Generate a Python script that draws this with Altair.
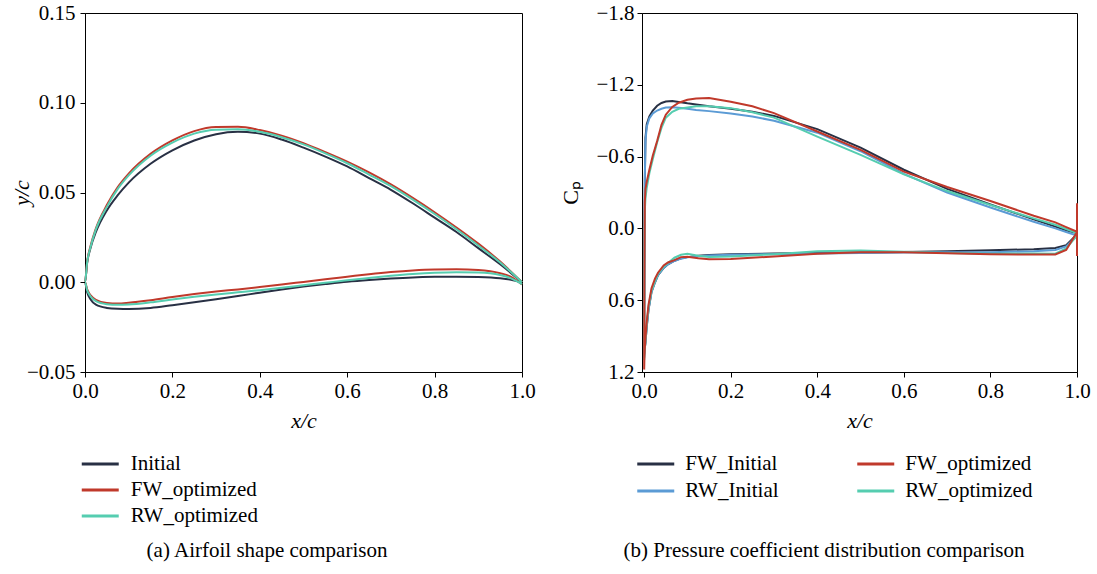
import altair as alt
import pandas as pd

SERIF = "Liberation Serif"

# ---------------- (a) airfoil shapes ----------------
AF_UP_X = [1.0, 0.95, 0.9, 0.85, 0.8, 0.75, 0.7, 0.65, 0.6, 0.55, 0.5, 0.45, 0.4,
           0.35, 0.3, 0.25, 0.2, 0.15, 0.1, 0.075, 0.05, 0.025, 0.0125, 0.005, 0.0]
AF_INITIAL_UP = [0.0, 0.010, 0.019, 0.028, 0.036, 0.044, 0.0515, 0.058, 0.0645, 0.070,
                 0.075, 0.0795, 0.0828, 0.0838, 0.0825, 0.079, 0.0735, 0.066, 0.0555,
                 0.0485, 0.040, 0.028, 0.019, 0.011, 0.0]
AF_FW_UP = [0.0, 0.0115, 0.0215, 0.0305, 0.039, 0.047, 0.0545, 0.0612, 0.0672, 0.0725,
            0.0775, 0.0817, 0.0848, 0.0866, 0.0865, 0.0842, 0.0790, 0.0715, 0.0605,
            0.053, 0.043, 0.030, 0.020, 0.0115, 0.0]
AF_RW_UP = [0.0, 0.011, 0.0205, 0.0295, 0.038, 0.046, 0.0535, 0.060, 0.0663, 0.0718,
            0.0768, 0.0808, 0.0838, 0.0852, 0.0850, 0.0828, 0.0778, 0.0705, 0.0595,
            0.052, 0.042, 0.0295, 0.0195, 0.0113, 0.0]

AF_LO_X = [0.0, 0.005, 0.0125, 0.025, 0.05, 0.075, 0.1, 0.15, 0.2, 0.25, 0.3, 0.35, 0.4,
           0.45, 0.5, 0.55, 0.6, 0.65, 0.7, 0.75, 0.8, 0.85, 0.9, 0.95, 0.975, 1.0]
AF_INITIAL_LO = [0.0, -0.0055, -0.0095, -0.0125, -0.0143, -0.0148, -0.0149, -0.0143,
                 -0.0128, -0.0112, -0.0095, -0.0077, -0.0058, -0.0040, -0.0024, -0.0010,
                 0.0003, 0.0013, 0.0021, 0.0027, 0.0030, 0.0031, 0.0029, 0.0022, 0.0014, 0.0]
AF_FW_LO = [0.0, -0.0040, -0.0072, -0.0098, -0.0115, -0.0118, -0.0114, -0.0100, -0.0082,
            -0.0066, -0.0052, -0.0040, -0.0027, -0.0013, 0.0002, 0.0017, 0.0031, 0.0045,
            0.0057, 0.0066, 0.0071, 0.0072, 0.0068, 0.0050, 0.0030, -0.0013]
AF_RW_LO = [0.0, -0.0045, -0.0078, -0.0105, -0.0122, -0.0126, -0.0124, -0.0112, -0.0096,
            -0.0081, -0.0068, -0.0056, -0.0044, -0.0031, -0.0017, -0.0003, 0.0011, 0.0024,
            0.0036, 0.0046, 0.0053, 0.0056, 0.0054, 0.0040, 0.0022, -0.0010]

AF_SERIES = ["Initial", "FW_optimized", "RW_optimized"]
AF_COLORS = ["#283044", "#c0392b", "#55cdb0"]

# ---------------- (b) pressure coefficient ----------------
CP_UP_X = [1.0, 1.0, 0.975, 0.95, 0.9, 0.8, 0.7, 0.6, 0.5, 0.4, 0.3, 0.25, 0.2, 0.15, 0.12,
           0.1, 0.08, 0.065, 0.05, 0.04, 0.03, 0.02, 0.012, 0.006, 0.003, 0.0015, 0.0005, 0.0]
CP_FW_INIT_UP = [-0.20, 0.04, 0.015, -0.015, -0.075, -0.20, -0.33, -0.49, -0.675, -0.83,
                 -0.94, -0.975, -1.0, -1.02, -1.035, -1.045, -1.057, -1.065, -1.06, -1.048,
                 -1.025, -0.985, -0.935, -0.87, -0.76, -0.40, 0.30, 1.05]
CP_RW_INIT_UP = [0.06, 0.06, 0.03, 0.0, -0.055, -0.175, -0.30, -0.455, -0.645, -0.80,
                 -0.90, -0.935, -0.96, -0.98, -0.99, -1.0, -1.008, -1.012, -1.01, -1.0,
                 -0.985, -0.96, -0.92, -0.85, -0.73, -0.40, 0.30, 1.08]
CP_FW_OPT_UP = [-0.21, 0.028, -0.01, -0.05, -0.106, -0.229, -0.346, -0.474, -0.656, -0.81,
                -0.963, -1.02, -1.058, -1.09, -1.085, -1.075, -1.05, -1.015, -0.95, -0.866,
                -0.73, -0.61, -0.49, -0.39, -0.33, -0.22, 0.50, 1.18]
CP_RW_OPT_UP = [-0.13, 0.04, 0.005, -0.03, -0.084, -0.195, -0.312, -0.452, -0.614, -0.767,
                -0.926, -0.97, -1.005, -1.02, -1.02, -1.01, -1.0, -0.975, -0.925, -0.84,
                -0.72, -0.58, -0.46, -0.34, -0.25, -0.15, 0.30, 1.10]

CP_LO_X = [0.0, 0.0005, 0.0015, 0.003, 0.006, 0.01, 0.017, 0.025, 0.032, 0.045, 0.055,
           0.07, 0.085, 0.1, 0.125, 0.15, 0.2, 0.3, 0.4, 0.5, 0.6, 0.7, 0.8, 0.9, 0.95,
           0.975, 1.0, 1.0]
CP_FW_INIT_LO = [1.05, 1.03, 1.0, 0.95, 0.82, 0.68, 0.53, 0.45, 0.39, 0.33, 0.30, 0.27,
                 0.25, 0.24, 0.228, 0.222, 0.215, 0.21, 0.206, 0.202, 0.197, 0.19, 0.183,
                 0.174, 0.163, 0.14, 0.05, 0.22]
CP_RW_INIT_LO = [1.08, 1.05, 1.0, 0.95, 0.82, 0.68, 0.53, 0.45, 0.39, 0.33, 0.30, 0.272,
                 0.253, 0.242, 0.232, 0.226, 0.22, 0.215, 0.21, 0.205, 0.202, 0.2, 0.2,
                 0.19, 0.18, 0.15, 0.06, 0.06]
CP_FW_OPT_LO = [1.18, 1.10, 1.0, 0.92, 0.78, 0.64, 0.50, 0.42, 0.37, 0.31, 0.285, 0.265,
                0.24, 0.237, 0.25, 0.257, 0.255, 0.235, 0.212, 0.20, 0.20, 0.208, 0.216,
                0.218, 0.218, 0.18, 0.03, 0.23]
CP_RW_OPT_LO = [1.10, 1.06, 1.0, 0.94, 0.80, 0.66, 0.52, 0.44, 0.38, 0.32, 0.29, 0.245,
                0.22, 0.212, 0.228, 0.238, 0.235, 0.215, 0.19, 0.184, 0.195, 0.206, 0.212,
                0.21, 0.212, 0.168, 0.06, 0.20]

# legend order (filled column by column): FW_Initial, RW_Initial | FW_optimized, RW_optimized
CP_SERIES = ["FW_Initial", "RW_Initial", "FW_optimized", "RW_optimized"]
CP_COLORS = ["#283044", "#5b9bd5", "#c0392b", "#55cdb0"]

CAPTION_A = "(a) Airfoil shape comparison"
CAPTION_B = "(b) Pressure coefficient distribution comparison"


def loop(series, ux, uy, lx, ly):
    rows = []
    k = 0
    for x, y in zip(ux, uy):
        rows.append({"series": series, "x": x, "y": y, "i": k})
        k += 1
    for x, y in zip(lx, ly):
        rows.append({"series": series, "x": x, "y": y, "i": k})
        k += 1
    return rows


af_rows = (loop("Initial", AF_UP_X, AF_INITIAL_UP, AF_LO_X, AF_INITIAL_LO)
           + loop("FW_optimized", AF_UP_X, AF_FW_UP, AF_LO_X, AF_FW_LO)
           + loop("RW_optimized", AF_UP_X, AF_RW_UP, AF_LO_X, AF_RW_LO))
af_df = pd.DataFrame(af_rows)

cp_rows = (loop("FW_Initial", CP_UP_X, CP_FW_INIT_UP, CP_LO_X, CP_FW_INIT_LO)
           + loop("RW_Initial", CP_UP_X, CP_RW_INIT_UP, CP_LO_X, CP_RW_INIT_LO)
           + loop("RW_optimized", CP_UP_X, CP_RW_OPT_UP, CP_LO_X, CP_RW_OPT_LO)
           + loop("FW_optimized", CP_UP_X, CP_FW_OPT_UP, CP_LO_X, CP_FW_OPT_LO))
cp_df = pd.DataFrame(cp_rows)

W_A, W_B, H = 437, 435, 359
LINE_SYMBOL = "M-2,0L2,0"

lines_a = alt.Chart(af_df).mark_line(strokeWidth=2, interpolate="monotone").encode(
    x=alt.X("x:Q", scale=alt.Scale(domain=[0, 1], nice=False, zero=False),
            axis=alt.Axis(values=[0, 0.2, 0.4, 0.6, 0.8, 1.0], format=".1f",
                          labelFlush=False,
                          title="x/c", titleFontStyle="italic", titlePadding=9)),
    y=alt.Y("y:Q", scale=alt.Scale(domain=[-0.05, 0.15], nice=False, zero=False),
            axis=alt.Axis(values=[-0.05, 0, 0.05, 0.10, 0.15], format=".2f",
                          labelPadding=5,
                          title="y/c", titleFontStyle="italic", titlePadding=-7)),
    color=alt.Color("series:N", scale=alt.Scale(domain=AF_SERIES, range=AF_COLORS),
                    legend=alt.Legend(orient="none", legendX=-5, legendY=440, title=None,
                                      symbolType=LINE_SYMBOL, symbolSize=342,
                                      symbolStrokeWidth=3, symbolOffset=9.25,
                                      labelFont=SERIF,
                                      labelFontSize=21, labelColor="black",
                                      labelOffset=19.5, rowPadding=5, padding=0,
                                      columns=1)),
    detail="series:N",
    order="i:Q",
)
cap_a = alt.Chart(pd.DataFrame({"t": [CAPTION_A]})).mark_text(
    font=SERIF, fontSize=21, color="black", baseline="middle", align="center"
).encode(text="t:N", x=alt.value(182), y=alt.value(538))

lines_b = alt.Chart(cp_df).mark_line(strokeWidth=2).encode(
    x=alt.X("x:Q", scale=alt.Scale(domain=[-0.005, 1.0], nice=False, zero=False),
            axis=alt.Axis(values=[0, 0.2, 0.4, 0.6, 0.8, 1.0], format=".1f",
                          labelFlush=False,
                          title="x/c", titleFontStyle="italic", titlePadding=9)),
    y=alt.Y("y:Q", scale=alt.Scale(domain=[-1.8, 1.2], nice=False, zero=False,
                                   reverse=True),
            axis=alt.Axis(values=[-1.8, -1.2, -0.6, 0.0, 0.6, 1.2], format=".1f",
                          title="Cₚ", titlePadding=13.5)),
    color=alt.Color("series:N", scale=alt.Scale(domain=CP_SERIES, range=CP_COLORS),
                    legend=alt.Legend(orient="none", legendX=-6.5, legendY=440, title=None,
                                      symbolType=LINE_SYMBOL, symbolSize=342,
                                      symbolStrokeWidth=3, symbolOffset=9.25,
                                      labelFont=SERIF,
                                      labelFontSize=21, labelColor="black",
                                      labelOffset=18.5, rowPadding=6, padding=0,
                                      columns=2, columnPadding=71)),
    detail="series:N",
    order="i:Q",
)
cap_b = alt.Chart(pd.DataFrame({"t": [CAPTION_B]})).mark_text(
    font=SERIF, fontSize=21, color="black", baseline="middle", align="center"
).encode(text="t:N", x=alt.value(182), y=alt.value(538))

left = alt.layer(lines_a, cap_a).properties(width=W_A, height=H)
right = alt.layer(lines_b, cap_b).properties(width=W_B, height=H)

chart = alt.hconcat(left, right, spacing=120, bounds="flush").resolve_scale(
    color="independent"
).properties(
    padding={"left": 9, "top": 1, "right": 5, "bottom": 5},
    background="white",
).configure_view(
    stroke="black", strokeWidth=1
).configure_axis(
    grid=False, domainColor="black", tickColor="black", tickSize=5,
    labelFont=SERIF, labelFontSize=21, labelColor="black", labelPadding=3,
    titleFont=SERIF, titleFontSize=22, titleFontWeight="normal", titleColor="black",
)

chart.save("out.html", embed_options={"renderer": "svg", "actions": False})
